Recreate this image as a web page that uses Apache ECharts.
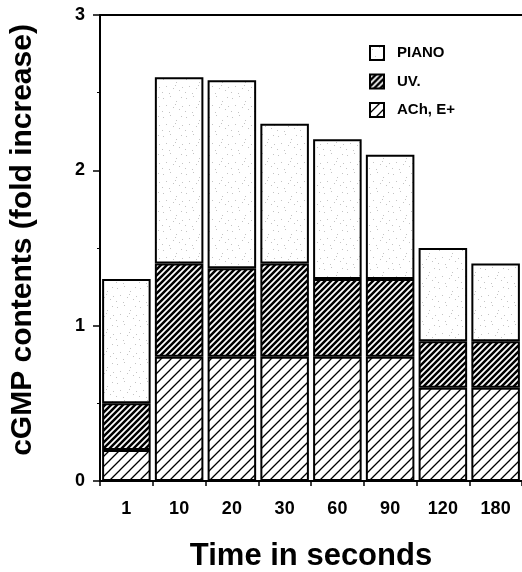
<!DOCTYPE html>
<html>
<head>
<meta charset="utf-8">
<script src="https://cdn.jsdelivr.net/npm/echarts@6/dist/echarts.min.js"></script>
<style>
html,body{margin:0;padding:0;background:#fff;}
#chart{width:522px;height:572px;}
</style>
</head>
<body>
<div id="chart"></div>
<script>
// Data
var categories = ['1', '10', '20', '30', '60', '90', '120', '180'];
var seriesNames = ['PIANO', 'UV.', 'ACh, E+'];
// Segment values (stacked from bottom: ACh, E+ -> UV. -> PIANO)
var achValues   = [0.2, 0.8, 0.8, 0.8, 0.8, 0.8, 0.6, 0.6];
var uvValues    = [0.3, 0.6, 0.57, 0.6, 0.5, 0.5, 0.3, 0.3];
var pianoValues = [0.8, 1.2, 1.21, 0.9, 0.9, 0.8, 0.6, 0.5];
var yTicks = [0, 1, 2, 3];

function hatch(size, bg, fg, lw) {
  var c = document.createElement('canvas');
  c.width = size; c.height = size;
  var g = c.getContext('2d');
  g.fillStyle = bg; g.fillRect(0, 0, size, size);
  g.strokeStyle = fg; g.lineWidth = lw; g.lineCap = 'square';
  g.beginPath();
  g.moveTo(-1, size + 1); g.lineTo(size + 1, -1);
  g.moveTo(-size / 2 - 1, size / 2 + 1); g.lineTo(size / 2 + 1, -size / 2 - 1);
  g.moveTo(size / 2 - 1, size * 1.5 + 1); g.lineTo(size * 1.5 + 1, size / 2 - 1);
  g.stroke();
  return c;
}
function stipple() {
  var c = document.createElement('canvas');
  c.width = 23; c.height = 19;
  var g = c.getContext('2d');
  g.fillStyle = '#ffffff'; g.fillRect(0, 0, 23, 19);
  g.fillStyle = '#c4c4c4';
  var pts = [[2,3],[9,1],[15,6],[20,2],[5,10],[12,12],[18,14],[1,16],[8,17],[14,9],[21,11]];
  pts.forEach(function (p) { g.fillRect(p[0], p[1], 1, 1); });
  return c;
}

var achPattern = {image: hatch(10, '#ffffff', '#000000', 1.3), repeat: 'repeat'};
var uvPattern = {image: hatch(6, '#ffffff', '#000000', 2.5), repeat: 'repeat'};
var pianoPattern = {image: stipple(), repeat: 'repeat'};

var chart = echarts.init(document.getElementById('chart'));
var FONT = 'Liberation Sans, Arial, Helvetica, sans-serif';
var border = {borderColor: '#000', borderWidth: 2};

chart.setOption({
  backgroundColor: '#fff',
  animation: false,
  textStyle: {fontFamily: FONT},
  legend: {
    data: seriesNames,
    orient: 'vertical',
    left: 364, top: 40,
    itemWidth: 14, itemHeight: 14, itemGap: 12.5,
    icon: 'rect',
    textStyle: {fontFamily: FONT, fontWeight: 'bold', fontSize: 15, color: '#000', padding: [0, 0, 0, 8]}
  },
  grid: {left: 100, right: 0, top: 15, bottom: 91, outerBoundsMode: 'none', containLabel: false},
  xAxis: [{
    type: 'category',
    data: categories,
    position: 'bottom',
    axisLine: {lineStyle: {color: '#000', width: 2}},
    axisTick: {show: true, length: 5, inside: false, lineStyle: {color: '#000', width: 1.5}},
    axisLabel: {color: '#000', fontFamily: FONT, fontWeight: 'bold', fontSize: 18, margin: 19},
    name: 'Time in seconds',
    nameLocation: 'middle',
    nameGap: 60,
    nameTextStyle: {color: '#000', fontFamily: FONT, fontWeight: 'bold', fontSize: 31}
  }, {
    type: 'category',
    data: categories,
    position: 'top',
    axisLine: {lineStyle: {color: '#000', width: 2}},
    axisTick: {show: false},
    axisLabel: {show: false}
  }],
  yAxis: {
    type: 'value',
    min: 0, max: 3, interval: 1,
    axisLine: {show: true, lineStyle: {color: '#000', width: 2}},
    axisTick: {show: true, length: 7, lineStyle: {color: '#000', width: 1.5}},
    minorTick: {show: true, splitNumber: 2, length: 3, lineStyle: {color: '#000', width: 1}},
    splitLine: {show: false},
    axisLabel: {color: '#000', fontFamily: FONT, fontWeight: 'bold', fontSize: 18, margin: 15},
    name: 'cGMP contents (fold increase)',
    nameLocation: 'middle',
    nameGap: 62,
    nameTextStyle: {color: '#000', fontFamily: FONT, fontWeight: 'bold', fontSize: 30, padding: [0, 0, 0, 16]}
  },
  series: [{
    name: 'ACh, E+', type: 'bar', stack: 'total', barCategoryGap: '8%',
    data: achValues,
    itemStyle: Object.assign({color: achPattern}, border)
  }, {
    name: 'UV.', type: 'bar', stack: 'total', barCategoryGap: '8%',
    data: uvValues,
    itemStyle: Object.assign({color: uvPattern}, border)
  }, {
    name: 'PIANO', type: 'bar', stack: 'total', barCategoryGap: '8%',
    data: pianoValues,
    itemStyle: Object.assign({color: pianoPattern}, border)
  }]
});
</script>
</body>
</html>
